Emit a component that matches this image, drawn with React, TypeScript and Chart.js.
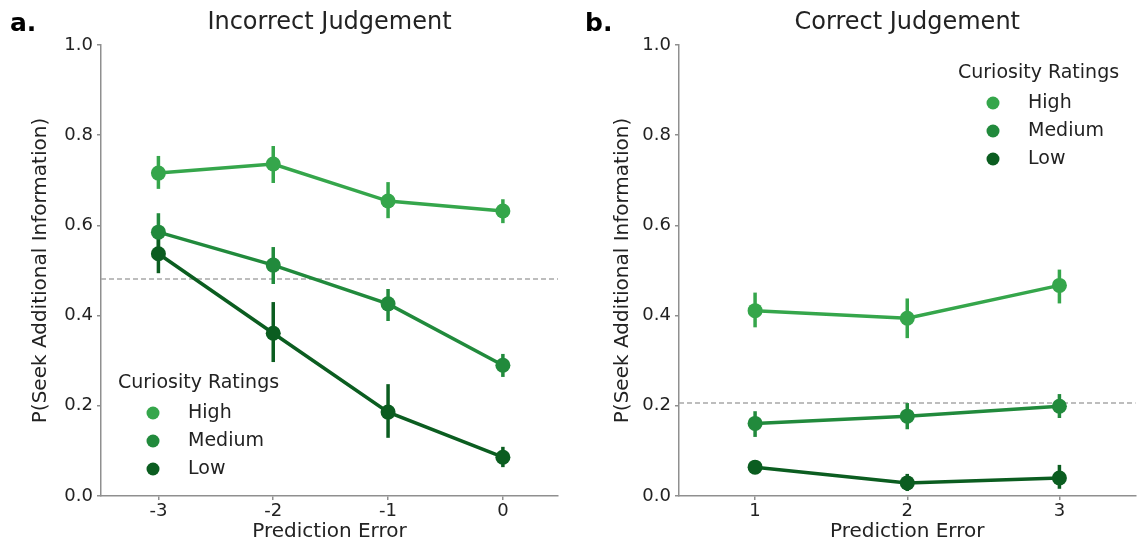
import React, { useEffect, useRef } from "react";
import { Chart, registerables } from "chart.js";
Chart.register(...registerables);

// ---------- data ----------
const levels = ["High", "Medium", "Low"];
const levelColors = ["#35a64b", "#218a3c", "#0b5d20"];
const yTicks = [0, 0.2, 0.4, 0.6, 0.8, 1.0];
const legendTitle = "Curiosity Ratings";
const xAxisTitle = "Prediction Error";
const yAxisTitle = "P(Seek Additional Information)";

// Panel a: Incorrect judgement
const xIncorrect = [-3, -2, -1, 0];
const incHigh = [0.716, 0.736, 0.654, 0.632];
const incHighLo = [0.681, 0.694, 0.616, 0.605];
const incHighHi = [0.754, 0.776, 0.696, 0.658];
const incMed = [0.585, 0.512, 0.426, 0.29];
const incMedLo = [0.545, 0.47, 0.388, 0.264];
const incMedHi = [0.627, 0.552, 0.459, 0.315];
const incLow = [0.537, 0.361, 0.186, 0.086];
const incLowLo = [0.494, 0.297, 0.129, 0.064];
const incLowHi = [0.574, 0.43, 0.248, 0.109];
const incBaseline = 0.481;

// Panel b: Correct judgement
const xCorrect = [1, 2, 3];
const corHigh = [0.411, 0.394, 0.467];
const corHighLo = [0.374, 0.35, 0.427];
const corHighHi = [0.451, 0.438, 0.502];
const corMed = [0.161, 0.177, 0.199];
const corMedLo = [0.131, 0.148, 0.173];
const corMedHi = [0.188, 0.206, 0.226];
const corLow = [0.064, 0.029, 0.04];
const corLowLo = [0.056, 0.011, 0.016];
const corLowHi = [0.072, 0.049, 0.069];
const corBaseline = 0.206;

const FONT = "'DejaVu Sans', sans-serif";
const TEXT = "#222222";
const AXIS = "#8f8f8f";

type Panel = {
  letter: string;
  title: string;
  xs: number[];
  means: number[][];
  los: number[][];
  his: number[][];
  baseline: number;
  xMin: number;
  xMax: number;
  left: number;
  width: number;
  yAxisW: number;
  padRight: number;
  yTitlePad: number;
  legendX: number;
  legendY: number;
};

const panels: Panel[] = [
  {
    letter: "a.",
    title: "Incorrect Judgement",
    xs: xIncorrect,
    means: [incHigh, incMed, incLow],
    los: [incHighLo, incMedLo, incLowLo],
    his: [incHighHi, incMedHi, incLowHi],
    baseline: incBaseline,
    xMin: -3.5,
    xMax: 0.48,
    left: 0,
    width: 575,
    yAxisW: 101,
    padRight: 17,
    yTitlePad: 29,
    legendX: 118,
    legendY: 383,
  },
  {
    letter: "b.",
    title: "Correct Judgement",
    xs: xCorrect,
    means: [corHigh, corMed, corLow],
    los: [corHighLo, corMedLo, corLowLo],
    his: [corHighHi, corMedHi, corLowHi],
    baseline: corBaseline,
    xMin: 0.5,
    xMax: 3.5,
    left: 575,
    width: 568,
    yAxisW: 104,
    padRight: 3,
    yTitlePad: 36,
    legendX: 383,
    legendY: 73,
  },
];

const decorPlugin = {
  id: "decor",
  beforeDatasetsDraw(chart: any, _args: any, opts: any) {
    const { ctx, chartArea, scales } = chart;
    const y = scales.y.getPixelForValue(opts.baseline);
    ctx.save();
    ctx.strokeStyle = "#a8a8a8";
    ctx.lineWidth = 1.5;
    ctx.setLineDash([5, 3]);
    ctx.beginPath();
    ctx.moveTo(chartArea.left, y);
    ctx.lineTo(chartArea.right, y);
    ctx.stroke();
    ctx.setLineDash([]);
    // error bars
    chart.data.datasets.forEach((ds: any) => {
      ctx.strokeStyle = ds.borderColor;
      ctx.lineWidth = 3.5;
      ds.data.forEach((p: any, i: number) => {
        const px = scales.x.getPixelForValue(p.x);
        ctx.beginPath();
        ctx.moveTo(px, scales.y.getPixelForValue(ds.errLo[i]));
        ctx.lineTo(px, scales.y.getPixelForValue(ds.errHi[i]));
        ctx.stroke();
      });
    });
    ctx.restore();
  },
  afterDraw(chart: any, _args: any, opts: any) {
    const { ctx, chartArea } = chart;
    ctx.save();
    ctx.fillStyle = TEXT;
    ctx.textBaseline = "middle";
    // panel title
    ctx.textAlign = "center";
    ctx.font = `24px ${FONT}`;
    ctx.fillText(opts.title, (chartArea.left + chartArea.right) / 2, 23);
    // letter
    ctx.textAlign = "left";
    ctx.font = `bold 25px ${FONT}`;
    ctx.fillStyle = "#000";
    ctx.fillText(opts.letter, 10, 24);
    // legend
    ctx.fillStyle = TEXT;
    ctx.font = `19px ${FONT}`;
    ctx.fillText(legendTitle, opts.legendX, opts.legendY);
    levels.forEach((lab, i) => {
      const yy = opts.legendY + 30 + 28 * i;
      ctx.fillStyle = levelColors[i];
      ctx.beginPath();
      ctx.arc(opts.legendX + 35, yy, 6.5, 0, Math.PI * 2);
      ctx.fill();
      ctx.fillStyle = TEXT;
      ctx.fillText(lab, opts.legendX + 70, yy);
    });
    ctx.restore();
  },
};

function PanelChart({ p }: { p: Panel }) {
  const ref = useRef<HTMLCanvasElement | null>(null);
  useEffect(() => {
    if (!ref.current) return;
    const datasets = levels.map((lab, k) => ({
      label: lab,
      data: p.xs.map((x, i) => ({ x, y: p.means[k][i] })),
      errLo: p.los[k],
      errHi: p.his[k],
      borderColor: levelColors[k],
      backgroundColor: levelColors[k],
      pointBackgroundColor: levelColors[k],
      pointBorderWidth: 0,
      pointRadius: 7.5,
      borderWidth: 3.5,
      tension: 0,
      order: 2 - k,
    }));
    const chart = new Chart(ref.current, {
      type: "line",
      data: { datasets } as any,
      options: {
        animation: false,
        responsive: false,
        events: [],
        layout: { padding: { left: 0, right: p.padRight, top: 45, bottom: 0 } },
        plugins: {
          legend: { display: false },
          tooltip: { enabled: false },
          decor: {
            baseline: p.baseline,
            title: p.title,
            letter: p.letter,
            legendX: p.legendX,
            legendY: p.legendY,
          },
        } as any,
        scales: {
          x: {
            type: "linear",
            min: p.xMin,
            max: p.xMax,
            afterBuildTicks: (s: any) => {
              s.ticks = p.xs.map((v) => ({ value: v }));
            },
            afterFit: (s: any) => {
              s.height = 50;
            },
            ticks: {
              callback: (v: any) => String(v),
              font: { family: FONT, size: 18 },
              color: TEXT,
              padding: 1,
              maxRotation: 0,
            },
            grid: { display: true, drawOnChartArea: false, drawTicks: true, tickLength: 4, color: AXIS, lineWidth: 1.5 },
            border: { display: true, color: AXIS, width: 1.5 },
            title: {
              display: true,
              text: xAxisTitle,
              font: { family: FONT, size: 20 },
              color: TEXT,
              padding: { top: 0, bottom: 2 },
            },
          },
          y: {
            type: "linear",
            min: 0,
            max: 1,
            afterBuildTicks: (s: any) => {
              s.ticks = yTicks.map((v) => ({ value: v }));
            },
            afterFit: (s: any) => {
              s.width = p.yAxisW;
            },
            ticks: {
              callback: (v: any) => Number(v).toFixed(1),
              font: { family: FONT, size: 18 },
              color: TEXT,
              padding: 4,
            },
            grid: { display: true, drawOnChartArea: false, drawTicks: true, tickLength: 4, color: AXIS, lineWidth: 1.5 },
            border: { display: true, color: AXIS, width: 1.5 },
            title: {
              display: true,
              text: yAxisTitle,
              font: { family: FONT, size: 20 },
              color: TEXT,
              padding: { top: p.yTitlePad, bottom: 0 },
            },
          },
        },
      } as any,
      plugins: [decorPlugin],
    });
    return () => chart.destroy();
  }, [p]);
  return (
    <div style={{ position: "absolute", left: p.left, top: 0, width: p.width, height: 546 }}>
      <canvas ref={ref} width={p.width} height={546} style={{ display: "block" }} />
    </div>
  );
}

export default function App() {
  return (
    <div
      style={{
        position: "fixed",
        left: 0,
        top: 0,
        width: 1143,
        height: 546,
        background: "#fff",
        overflow: "hidden",
      }}
    >
      {panels.map((p) => (
        <PanelChart key={p.letter} p={p} />
      ))}
    </div>
  );
}
